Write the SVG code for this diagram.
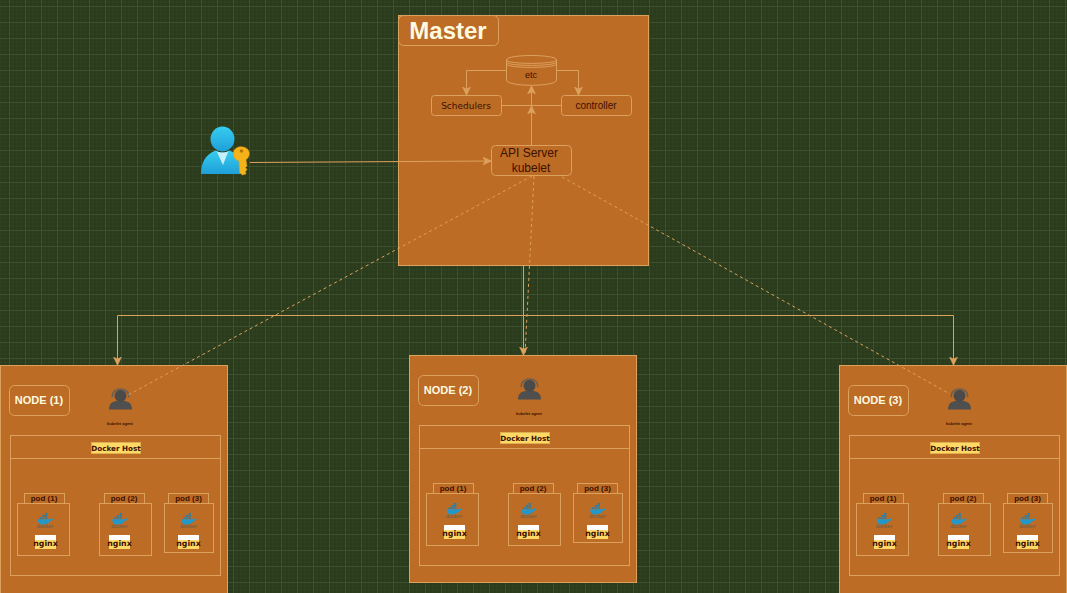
<svg xmlns="http://www.w3.org/2000/svg" xmlns:xlink="http://www.w3.org/1999/xlink" width="1067" height="593" viewBox="0 0 1067 593">
<style>
.box{fill:#bc6c25;stroke:#dda15e;stroke-width:1}
.in{fill:none;stroke:#dda15e;stroke-width:1}
.line{fill:none;stroke:#dda15e;stroke-width:1}
.dash{fill:none;stroke:#dda15e;stroke-width:1;stroke-dasharray:3 3}
.t{font-family:"Liberation Sans",Arial,sans-serif;fill:#3d0f00;text-anchor:middle}
.d{font-family:"DejaVu Sans",sans-serif;fill:#3d0f00;text-anchor:middle}
.w{font-family:"Liberation Sans",Arial,sans-serif;fill:#fefae0;font-weight:bold;text-anchor:middle}
.pod{font-family:"Liberation Sans",Arial,sans-serif;font-weight:bold;font-size:8px;fill:#3d0f00;text-anchor:middle}
.dh{font-family:"DejaVu Sans",sans-serif;font-weight:bold;font-size:7.200px;fill:#3d0f00;text-anchor:middle}
.ng{font-family:"DejaVu Sans",sans-serif;font-weight:bold;font-size:7.800px;fill:#3d0f00;text-anchor:middle}
.ag{font-family:"Liberation Sans",Arial,sans-serif;font-weight:bold;font-size:4px;fill:#3d0f00;text-anchor:middle}
.dk{font-family:"Liberation Sans",Arial,sans-serif;font-size:5.500px;fill:#6b5a45;text-anchor:middle}
</style>
<defs>
<pattern id="g" width="16" height="16" patternUnits="userSpaceOnUse" x="9" y="6">
<rect width="16" height="16" fill="#2a3b1c"/>
<path d="M4 0V16M8 0V16M12 0V16M0 4H16M0 8H16M0 12H16" stroke="#2f4120" stroke-width="1" fill="none"/>
<path d="M0.500 0V16M0 0.500H16" stroke="#3d5030" stroke-width="1" fill="none"/>
</pattern>
<linearGradient id="u" x1="0" y1="0" x2="0" y2="1"><stop offset="0" stop-color="#36cdf0"/><stop offset="1" stop-color="#1f9fd8"/></linearGradient>
<marker id="a" markerWidth="9" markerHeight="9" refX="8" refY="4.500" orient="auto" markerUnits="userSpaceOnUse"><path d="M0 0.500L8.500 4.500L0 8.500L2 4.500Z" fill="#dda15e" stroke="#dda15e" stroke-width=".5"/></marker>
<symbol id="agent" viewBox="0 0 26 24" overflow="visible">
<path d="M0.500 23.500C0.500 17 4 15 9 14L17 14C22 15 25.500 17 25.500 23.500Z" fill="#4f4f4f"/>
<ellipse cx="13" cy="8.500" rx="6.500" ry="6.500" fill="#4a4a4a"/>
<path d="M4 10C3 -2 23 -2 22 10" fill="none" stroke="#5f5f5f" stroke-width="1.500"/>
</symbol>
<symbol id="whale" viewBox="0 0 18 14" overflow="visible">
<path d="M0.500 6.800H13.500C14.500 5.800 15 5.500 16.500 6.200L17.500 6.500C16.500 8 15 8.300 14 9C12.500 11.500 9 12.500 6 12.500C2.500 12.500 0.500 10 0.500 6.800Z" fill="#2496c8"/>
<path d="M2.500 4.500H5V6.300H2.500ZM5.500 4.500H8V6.300H5.500ZM8.500 4.500H11V6.300H8.500ZM5.500 2.200H8V4H5.500ZM8.500 2.200H11V4H8.500ZM8.500 0H11V1.800H8.500Z" fill="#2a7da6"/>
</symbol>
</defs>
<rect id="background" width="1067" height="593" fill="url(#g)"/>

<g id="node-master">
<rect class="box" x="398.500" y="15.500" width="250" height="250"/>
<rect class="box" x="398.500" y="15.500" width="100" height="30" rx="5"/>
<text class="w" x="448" y="38.500" font-size="24">Master</text>
</g>
<g id="node-etc">
<path class="box" d="M506.500 60C506.500 54 556.500 54 556.500 60V80C556.500 87 506.500 87 506.500 80Z"/>
<path class="in" d="M506.500 60C506.500 64.500 556.500 64.500 556.500 60M506.500 62C506.500 66.500 556.500 66.500 556.500 62M506.500 64C506.500 68.500 556.500 68.500 556.500 64"/>
<text class="t" x="531" y="78" font-size="9">etc</text>
</g>
<g id="node-schedulers">
<rect class="box" x="431.500" y="95.500" width="70" height="20" rx="3"/>
<text class="d" x="466" y="109" font-size="9">Schedulers</text>
</g>
<g id="node-controller">
<rect class="box" x="561.500" y="95.500" width="70" height="20" rx="3"/>
<text class="t" x="596" y="109" font-size="10">controller</text>
</g>
<g id="node-api">
<rect class="box" x="491.500" y="145.500" width="80" height="30" rx="4"/>
<text class="t" x="529" y="157" font-size="12">API Server</text>
<text class="t" x="531" y="172" font-size="12">kubelet</text>
</g>
<g id="node-user">
<ellipse cx="222.500" cy="139" rx="12" ry="12.500" fill="url(#u)"/>
<path d="M201 174C201 163 205 155 215.500 150.500C219 153 226 153 229.500 150.500C238 154 243 160 244 174Z" fill="url(#u)"/>
<path d="M216.500 151C220 153 225 153 228.500 151L223 165Z" fill="#c5eef8"/>
<path d="M233.500 152C234.500 147.500 240 145.500 245 147.500C250 149.500 250.500 155 247.500 158.500L246 159.500L247 166L245.500 167.500L247 169.500L245.500 171.500L246 174L242.500 175L239.500 172.500L239 161C235 160 232.500 156 233.500 152Z" fill="#f5b31a" stroke="#e0920c" stroke-width=".5"/>
<circle cx="241.500" cy="151" r="1.800" fill="#b8740c"/>
</g>

<g id="node-1">
<rect class="box" x="0.500" y="365.500" width="227" height="228"/>
<rect class="box" x="9.500" y="385.500" width="60" height="30" rx="5"/><text class="w" x="39" y="404" font-size="11">NODE (1)</text>
<use href="#agent" xlink:href="#agent" x="108" y="388" width="25" height="22"/>
<text class="ag" x="120" y="425">kubelet agent</text>
<rect class="in" x="10.500" y="435.500" width="210" height="140"/><path class="line" d="M10.500 458.500H220.500"/>
<rect x="91.500" y="442.500" width="49" height="11" fill="#ffd966" stroke="#e0b050"/><text class="dh" x="116" y="451">Docker Host</text>
<rect class="in" x="24.500" y="493.500" width="40" height="10"/><text class="pod" x="44" y="501">pod (1)</text>
<rect class="in" x="17.500" y="503.500" width="52" height="52"/>
<use href="#whale" xlink:href="#whale" x="36.500" y="513" width="18" height="13"/><text class="dk" x="45" y="528">docker</text>
<rect x="35" y="535" width="21" height="14" fill="#ffd966"/><rect x="35" y="535" width="21" height="5" fill="#fff"/><text class="ng" x="45.500" y="546">nginx</text>
<rect class="in" x="104.500" y="493.500" width="40" height="10"/><text class="pod" x="124" y="501">pod (2)</text>
<rect class="in" x="99.500" y="503.500" width="52" height="52"/>
<use href="#whale" xlink:href="#whale" x="111" y="513" width="18" height="13"/><text class="dk" x="119.500" y="528">docker</text>
<rect x="109" y="535" width="21" height="14" fill="#ffd966"/><rect x="109" y="535" width="21" height="5" fill="#fff"/><text class="ng" x="119.500" y="546">nginx</text>
<rect class="in" x="168.500" y="493.500" width="40" height="10"/><text class="pod" x="188.500" y="501">pod (3)</text>
<rect class="in" x="164.500" y="503.500" width="49" height="49"/>
<use href="#whale" xlink:href="#whale" x="180" y="513" width="18" height="13"/><text class="dk" x="188.500" y="528">docker</text>
<rect x="178" y="535" width="21" height="14" fill="#ffd966"/><rect x="178" y="535" width="21" height="5" fill="#fff"/><text class="ng" x="188.500" y="546">nginx</text>
</g>

<g id="node-2" transform="translate(409 -10)">
<rect class="box" x="0.500" y="365.500" width="227" height="227"/>
<rect class="box" x="9.500" y="385.500" width="60" height="30" rx="5"/><text class="w" x="39" y="404" font-size="11">NODE (2)</text>
<use href="#agent" xlink:href="#agent" x="108" y="388" width="25" height="22"/>
<text class="ag" x="120" y="425">kubelet agent</text>
<rect class="in" x="10.500" y="435.500" width="210" height="140"/><path class="line" d="M10.500 458.500H220.500"/>
<rect x="91.500" y="442.500" width="49" height="11" fill="#ffd966" stroke="#e0b050"/><text class="dh" x="116" y="451">Docker Host</text>
<rect class="in" x="24.500" y="493.500" width="40" height="10"/><text class="pod" x="44" y="501">pod (1)</text>
<rect class="in" x="17.500" y="503.500" width="52" height="52"/>
<use href="#whale" xlink:href="#whale" x="36.500" y="513" width="18" height="13"/><text class="dk" x="45" y="528">docker</text>
<rect x="35" y="535" width="21" height="14" fill="#ffd966"/><rect x="35" y="535" width="21" height="5" fill="#fff"/><text class="ng" x="45.500" y="546">nginx</text>
<rect class="in" x="104.500" y="493.500" width="40" height="10"/><text class="pod" x="124" y="501">pod (2)</text>
<rect class="in" x="99.500" y="503.500" width="52" height="52"/>
<use href="#whale" xlink:href="#whale" x="111" y="513" width="18" height="13"/><text class="dk" x="119.500" y="528">docker</text>
<rect x="109" y="535" width="21" height="14" fill="#ffd966"/><rect x="109" y="535" width="21" height="5" fill="#fff"/><text class="ng" x="119.500" y="546">nginx</text>
<rect class="in" x="168.500" y="493.500" width="40" height="10"/><text class="pod" x="188.500" y="501">pod (3)</text>
<rect class="in" x="164.500" y="503.500" width="49" height="49"/>
<use href="#whale" xlink:href="#whale" x="180" y="513" width="18" height="13"/><text class="dk" x="188.500" y="528">docker</text>
<rect x="178" y="535" width="21" height="14" fill="#ffd966"/><rect x="178" y="535" width="21" height="5" fill="#fff"/><text class="ng" x="188.500" y="546">nginx</text>
</g>

<g id="node-3" transform="translate(839 0)">
<rect class="box" x="0.500" y="365.500" width="227" height="228"/>
<rect class="box" x="9.500" y="385.500" width="60" height="30" rx="5"/><text class="w" x="39" y="404" font-size="11">NODE (3)</text>
<use href="#agent" xlink:href="#agent" x="108" y="388" width="25" height="22"/>
<text class="ag" x="120" y="425">kubelet agent</text>
<rect class="in" x="10.500" y="435.500" width="210" height="140"/><path class="line" d="M10.500 458.500H220.500"/>
<rect x="91.500" y="442.500" width="49" height="11" fill="#ffd966" stroke="#e0b050"/><text class="dh" x="116" y="451">Docker Host</text>
<rect class="in" x="24.500" y="493.500" width="40" height="10"/><text class="pod" x="44" y="501">pod (1)</text>
<rect class="in" x="17.500" y="503.500" width="52" height="52"/>
<use href="#whale" xlink:href="#whale" x="36.500" y="513" width="18" height="13"/><text class="dk" x="45" y="528">docker</text>
<rect x="35" y="535" width="21" height="14" fill="#ffd966"/><rect x="35" y="535" width="21" height="5" fill="#fff"/><text class="ng" x="45.500" y="546">nginx</text>
<rect class="in" x="104.500" y="493.500" width="40" height="10"/><text class="pod" x="124" y="501">pod (2)</text>
<rect class="in" x="99.500" y="503.500" width="52" height="52"/>
<use href="#whale" xlink:href="#whale" x="111" y="513" width="18" height="13"/><text class="dk" x="119.500" y="528">docker</text>
<rect x="109" y="535" width="21" height="14" fill="#ffd966"/><rect x="109" y="535" width="21" height="5" fill="#fff"/><text class="ng" x="119.500" y="546">nginx</text>
<rect class="in" x="168.500" y="493.500" width="40" height="10"/><text class="pod" x="188.500" y="501">pod (3)</text>
<rect class="in" x="164.500" y="503.500" width="49" height="49"/>
<use href="#whale" xlink:href="#whale" x="180" y="513" width="18" height="13"/><text class="dk" x="188.500" y="528">docker</text>
<rect x="178" y="535" width="21" height="14" fill="#ffd966"/><rect x="178" y="535" width="21" height="5" fill="#fff"/><text class="ng" x="188.500" y="546">nginx</text>
</g>

<g id="connectors">
<path class="line" d="M506 70.500H466.500V95" marker-end="url(#a)"/>
<path class="line" d="M557 70.500H578.500V95" marker-end="url(#a)"/>
<path class="line" d="M502 105.500H561"/>
<path class="line" d="M531.500 105.500V86" marker-end="url(#a)"/>
<path class="line" d="M531.500 145V106" marker-end="url(#a)"/>
<path class="line" d="M250 162.500L491 161" marker-end="url(#a)"/>
<path class="line" d="M523.500 266V315.500H117.500V365" marker-end="url(#a)"/>
<path class="line" d="M523.500 266V355" marker-end="url(#a)"/>
<path class="line" d="M523.500 315.500H953.500V365" marker-end="url(#a)"/>
<path class="dash" d="M532 176L128 395"/>
<path class="dash" d="M534 176L525 355"/>
<path class="dash" d="M562 177L950 394"/>
</g>
</svg>
